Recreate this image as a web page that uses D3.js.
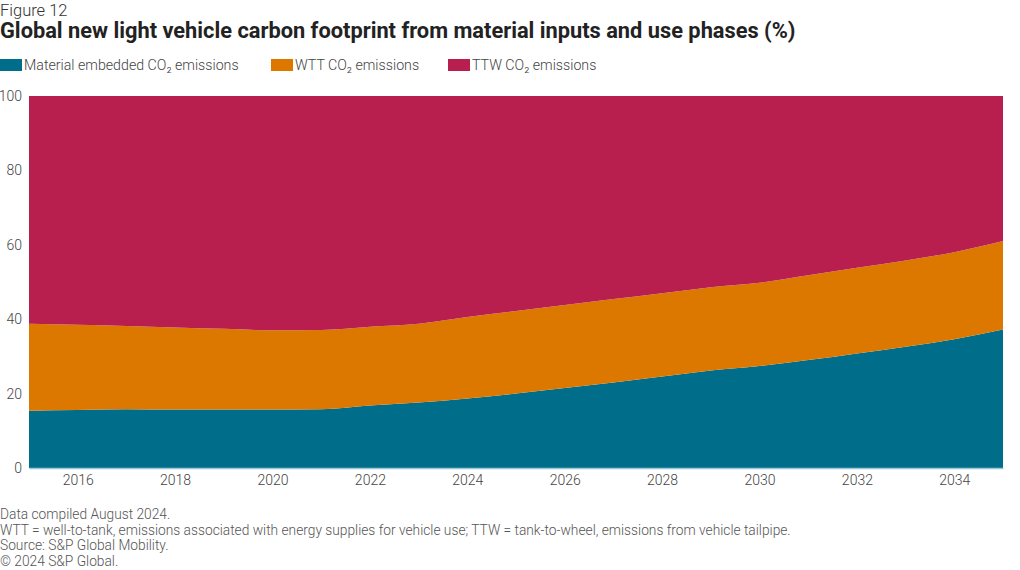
<!DOCTYPE html>
<html><head><meta charset="utf-8">
<script src="https://cdn.jsdelivr.net/npm/d3@7"></script>
<style>
body{margin:0;background:#fff;}
svg text{font-family:Roboto,"Noto Sans",sans-serif;}
</style></head>
<body><svg id="c" width="1020" height="570"></svg>
<script>
const years = [2015,2016,2017,2018,2019,2020,2021,2022,2023,2024,2025,2026,2027,2028,2029,2030,2031,2032,2033,2034,2035];
const material = [15.4,15.6,15.8,15.7,15.7,15.7,15.8,16.8,17.6,18.7,20.0,21.5,23.0,24.6,26.2,27.4,29.0,30.8,32.6,34.6,37.2];
const wtt      = [23.4,22.9,22.4,22.1,21.7,21.3,21.3,21.2,21.2,21.9,22.2,22.3,22.4,22.4,22.4,22.4,22.8,23.0,23.2,23.4,23.8];
const ttw = material.map((m,i)=> +(100 - m - wtt[i]).toFixed(1));
const seriesNames = ["Material embedded CO\u2082 emissions","WTT CO\u2082 emissions","TTW CO\u2082 emissions"];
const colors = ["#006e8a","#dc7800","#b81f4f"];
const xTicks = [2016,2018,2020,2022,2024,2026,2028,2030,2032,2034];
const yTicks = [0,20,40,60,80,100];

const svg = d3.select("#c");
const rows = years.map((y,i)=>({year:y, m:material[i], w:wtt[i], t:ttw[i]}));
const stack = d3.stack().keys(["m","w","t"])(rows);

const x = d3.scaleLinear().domain([2015,2035]).range([29,1003]);
const y = d3.scaleLinear().domain([0,100]).range([468,96]);

svg.append("text").attr("x",0).attr("y",16).attr("font-size",16.5).attr("font-weight",300).attr("fill","#333").text("Figure 12");
svg.append("text").attr("x",0).attr("y",38).attr("font-size",21.8).attr("font-weight","bold").attr("fill","#222").text("Global new light vehicle carbon footprint from material inputs and use phases (%)");

const leg = svg.append("g");
const legX = [0,271,448];
seriesNames.forEach((n,i)=>{
  leg.append("rect").attr("x",legX[i]).attr("y",59).attr("width",22).attr("height",12).attr("fill",colors[i]);
  leg.append("text").attr("x",legX[i]+24).attr("y",70).attr("font-size",14.2).attr("font-weight",300).attr("fill","#444").text(n);
});

const area = d3.area().x(d=>x(d.data.year)).y0(d=>y(d[0])).y1(d=>y(d[1])).curve(d3.curveMonotoneX);
svg.append("g").selectAll("path").data(stack).join("path")
  .attr("d",area).attr("fill",(d,i)=>colors[i]);

// x axis
const xa = svg.append("g").attr("transform","translate(0,468)")
  .call(d3.axisBottom(x).tickValues(xTicks).tickFormat(d3.format("d")).tickSize(0).tickPadding(7));
xa.select(".domain").attr("stroke","#9cc7d6").attr("stroke-width",1.5);
xa.selectAll("text").attr("font-size",14).attr("font-weight",300).attr("fill","#444").attr("font-family","Roboto,sans-serif");

const ya = svg.append("g").attr("transform","translate(22,0)")
  .call(d3.axisLeft(y).tickValues(yTicks).tickSize(0).tickPadding(0));
ya.select(".domain").remove();
ya.selectAll("text").attr("font-size",14).attr("font-weight",300).attr("fill","#444").attr("font-family","Roboto,sans-serif");

const notes = ["Data compiled August 2024.",
 "WTT = well-to-tank, emissions associated with energy supplies for vehicle use; TTW = tank-to-wheel, emissions from vehicle tailpipe.",
 "Source: S&P Global Mobility.",
 "\u00a9 2024 S&P Global."];
notes.forEach((t,i)=>{
  svg.append("text").attr("x",0).attr("y",519+i*15.5).attr("font-size",13.75).attr("font-weight",300).attr("fill","#555").text(t);
});
</script></body></html>
